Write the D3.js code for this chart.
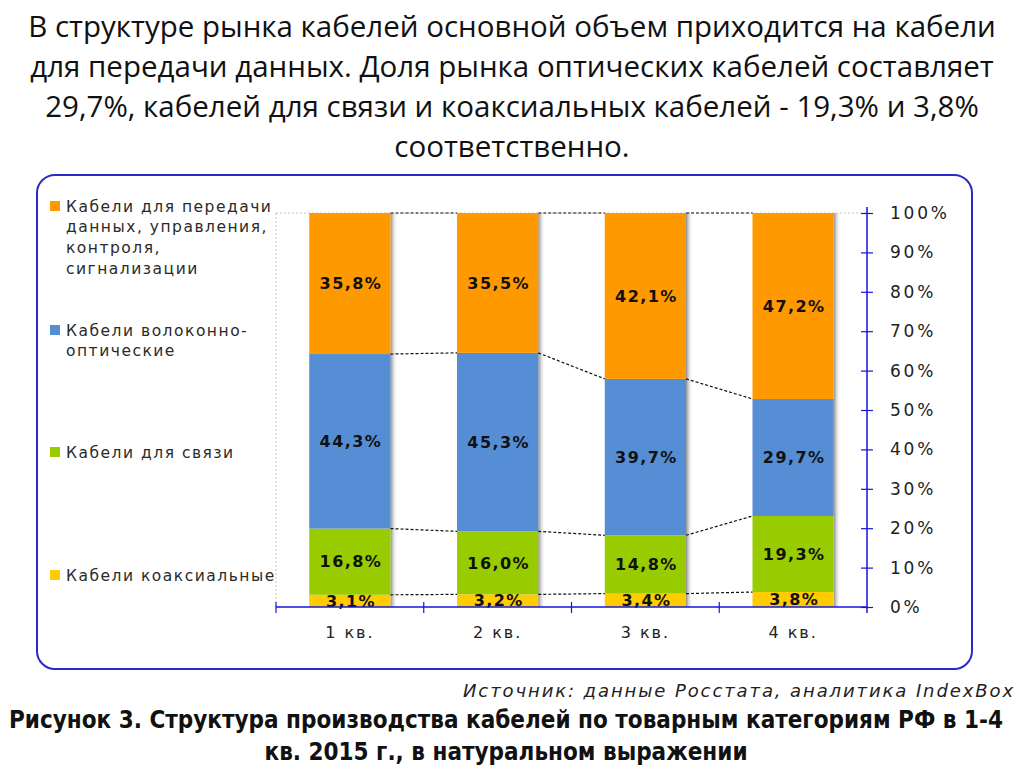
<!DOCTYPE html>
<html><head><meta charset="utf-8">
<script src="https://cdn.jsdelivr.net/npm/d3@7"></script>
<style>body{margin:0;background:#fff;overflow:hidden}</style>
</head><body><svg id="c" width="1024" height="767"></svg>
<script>
const categories = ["1 кв.", "2 кв.", "3 кв.", "4 кв."];
const seriesKeys = ["coax", "comm", "fiber", "data"];
const coaxValues = [3.1, 3.2, 3.4, 3.8];
const commValues = [16.8, 16.0, 14.8, 19.3];
const fiberValues = [44.3, 45.3, 39.7, 29.7];
const dataValues = [35.8, 35.5, 42.1, 47.2];
const yTickValues = [0, 10, 20, 30, 40, 50, 60, 70, 80, 90, 100];
const legendItems = [
  {key: "data", lines: ["Кабели для передачи", "данных, управления,", "контроля,", "сигнализации"]},
  {key: "fiber", lines: ["Кабели волоконно-", "оптические"]},
  {key: "comm", lines: ["Кабели для связи"]},
  {key: "coax", lines: ["Кабели коаксиальные"]}
];
const titleLines = [
  "В структуре рынка кабелей основной объем приходится на кабели",
  "для передачи данных. Доля рынка оптических кабелей составляет",
  "29,7%, кабелей для связи и коаксиальных кабелей - 19,3% и 3,8%",
  "соответственно."
];
const sourceText = "Источник: данные Росстата, аналитика IndexBox";
const captionLines = [
  "Рисунок 3. Структура производства кабелей по товарным категориям РФ в 1-4",
  "кв. 2015 г., в натуральном выражении"
];
const colors = {data: "#FF9900", fiber: "#558ED5", comm: "#99CC00", coax: "#FFCC00"};

(function () {
const rows = categories.map((c, i) => ({cat: c, coax: coaxValues[i], comm: commValues[i], fiber: fiberValues[i], data: dataValues[i]}));
const stacked = d3.stack().keys(seriesKeys)(rows);

const svg = d3.select("#c");
const fontChart = "Verdana, 'DejaVu Sans', sans-serif";

// Title
const tl = svg.append("g");
titleLines.forEach((t, i) => {
  tl.append("text").attr("x", 512).attr("y", 37 + i * 40)
    .attr("text-anchor", "middle")
    .attr("font-family", "'Open Sans', sans-serif").attr("font-size", 29.5)
    .attr("fill", "#111").text(t);
});

// Frame
svg.append("rect").attr("x", 37).attr("y", 175).attr("width", 935).attr("height", 494)
  .attr("rx", 18).attr("fill", "#fff").attr("stroke", "#2a2ac8").attr("stroke-width", 2);

const pL = 276, pR = 867, pT = 213, pB = 607;
const x = d3.scaleBand().domain(categories).range([pL, pR]).paddingInner(0.45).paddingOuter(0.225);
const y = d3.scaleLinear().domain([0, 100]).range([pB, pT]);
const bw = x.bandwidth();

// Grid dotted lines
svg.append("line").attr("x1", pL).attr("x2", pL).attr("y1", y(100)).attr("y2", y(0))
  .attr("stroke", "#b8c0d8").attr("stroke-dasharray", "2,2");
svg.append("line").attr("x1", pL).attr("x2", pR).attr("y1", y(100)).attr("y2", y(100))
  .attr("stroke", "#c8c8c8").attr("stroke-dasharray", "2,2");

// Shadow gradient
const defs = svg.append("defs");
const grad = defs.append("linearGradient").attr("id", "sh").attr("x1", 0).attr("x2", 1).attr("y1", 0).attr("y2", 0);
grad.append("stop").attr("offset", "0%").attr("stop-color", "#8c8c8c");
grad.append("stop").attr("offset", "100%").attr("stop-color", "#ffffff").attr("stop-opacity", 0);

svg.append("g").selectAll("rect").data(categories).join("rect")
  .attr("x", d => x(d) + bw).attr("y", y(100)).attr("width", 7).attr("height", y(0) - y(100))
  .attr("fill", "url(#sh)");

// Bars
const gBars = svg.append("g");
stacked.forEach(s => {
  gBars.append("g").selectAll("rect").data(s).join("rect")
    .attr("x", d => x(d.data.cat)).attr("width", bw)
    .attr("y", d => y(d[1])).attr("height", d => y(d[0]) - y(d[1]))
    .attr("fill", colors[s.key]);
});

// Connector dashed lines
const gConn = svg.append("g");
stacked.forEach(s => {
  for (let i = 0; i < s.length - 1; i++) {
    gConn.append("line")
      .attr("x1", x(categories[i]) + bw).attr("y1", y(s[i][1]))
      .attr("x2", x(categories[i + 1])).attr("y2", y(s[i + 1][1]))
      .attr("stroke", "#111").attr("stroke-width", 1.2).attr("stroke-dasharray", "3,2");
  }
});

// Bar labels
const fmt = v => d3.format(".1f")(v).replace(".", ",") + "%";
const gLab = svg.append("g");
stacked.forEach(s => {
  gLab.append("g").selectAll("text").data(s).join("text")
    .attr("x", d => x(d.data.cat) + bw / 2 + 1)
    .attr("y", d => (y(d[0]) + y(d[1])) / 2)
    .attr("dy", "0.36em").attr("text-anchor", "middle")
    .attr("font-family", fontChart).attr("font-weight", "bold").attr("font-size", 16)
    .attr("letter-spacing", 1.4)
    .attr("fill", "#111").text(d => fmt(d[1] - d[0]));
});

// X axis
const xAxis = svg.append("g").attr("transform", `translate(0,${pB})`)
  .call(d3.axisBottom(x).tickSize(0).tickPadding(20));
xAxis.select(".domain").remove();
xAxis.selectAll("text").attr("font-family", fontChart).attr("font-size", 16)
  .attr("letter-spacing", 2).attr("fill", "#222");
svg.append("line").attr("x1", pL).attr("x2", pR).attr("y1", pB).attr("y2", pB)
  .attr("stroke", "#1515e0").attr("stroke-width", 1.5);
const step = x.step();
const boundaries = categories.map(c => x(c) - step * x.paddingInner() / 2);
boundaries.forEach((b, i) => {
  svg.append("line").attr("x1", i === 0 ? pL : b).attr("x2", i === 0 ? pL : b)
    .attr("y1", pB - 5).attr("y2", pB + 6)
    .attr("stroke", "#1515e0").attr("stroke-width", 1.2);
});

// Right Y axis
const yAxis = svg.append("g").attr("transform", `translate(${pR},0)`)
  .call(d3.axisRight(y).tickValues(yTickValues).tickFormat(d => d + "%").tickSize(6).tickPadding(17));
yAxis.select(".domain").attr("stroke", "#1515e0").attr("stroke-width", 1.5).attr("d", `M0,${pT - 6}V${pB + 6}`);
yAxis.selectAll(".tick line").attr("x1", -6).attr("x2", 6).attr("stroke", "#1515e0").attr("stroke-width", 1.2);
yAxis.selectAll(".tick text").attr("font-family", fontChart).attr("font-size", 17)
  .attr("letter-spacing", 2.8).attr("fill", "#222");

// Legend
const gLeg = svg.append("g");
const legendY = [206, 330, 452, 575];
legendItems.forEach((it, i) => {
  const g = gLeg.append("g").attr("transform", `translate(50,${legendY[i]})`);
  g.append("rect").attr("x", 0).attr("y", -5).attr("width", 10).attr("height", 10).attr("fill", colors[it.key]);
  it.lines.forEach((ln, j) => {
    g.append("text").attr("x", 16).attr("y", j * 20.7).attr("dy", "0.36em")
      .attr("font-family", fontChart).attr("font-size", 15.5).attr("letter-spacing", 1.5)
      .attr("fill", "#2a2a2a").text(ln);
  });
});

// Source
svg.append("text").attr("x", 1015).attr("y", 697).attr("text-anchor", "end")
  .attr("font-family", fontChart).attr("font-style", "italic").attr("font-size", 18)
  .attr("letter-spacing", 1.9).attr("fill", "#222").text(sourceText);

// Caption
captionLines.forEach((t, i) => {
  svg.append("text").attr("x", 506).attr("y", 728 + i * 32).attr("text-anchor", "middle")
    .attr("font-family", "'Liberation Sans Narrow', 'DejaVu Sans Condensed', 'Arial Narrow', sans-serif")
    .attr("font-weight", "bold").attr("font-size", 24).attr("fill", "#111").text(t);
});
})();
</script>
</body></html>
